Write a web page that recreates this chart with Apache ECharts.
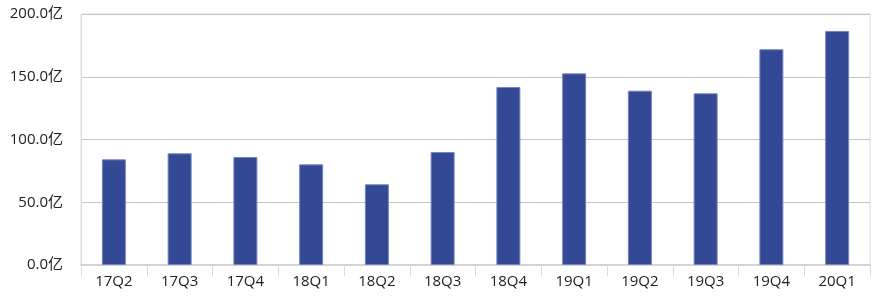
<!DOCTYPE html>
<html><head><meta charset="utf-8">
<script src="https://cdn.jsdelivr.net/npm/echarts@6/dist/echarts.min.js"></script>
<style>html,body{margin:0;padding:0;background:#fff}#c{width:880px;height:302px}</style>
</head><body><div id="c"></div>
<script>
var categories = ['17Q2','17Q3','17Q4','18Q1','18Q2','18Q3','18Q4','19Q1','19Q2','19Q3','19Q4','20Q1'];
var values = [84.2, 89.0, 86.1, 80.2, 64.3, 90.0, 141.8, 152.7, 138.9, 136.8, 171.9, 186.5];
var yTicks = [0, 50, 100, 150, 200];
var unit = '亿';

var chart = echarts.init(document.getElementById('c'), null, {renderer:'canvas'});
var font = '"Open Sans", "Noto Sans CJK SC", sans-serif';
chart.setOption({
  animation: false,
  grid: {left: 81, right: 10, top: 14, bottom: 37, show: true, borderColor: '#dcdcdc', borderWidth: 1},
  xAxis: {
    type: 'category', data: categories,
    axisLine: {show: true, lineStyle: {color: '#d4d4d4', width: 2}},
    axisTick: {show: true, length: 11, lineStyle: {color: '#d3dbea'}},
    axisLabel: {color: '#222', fontSize: 15, fontFamily: font, margin: 9}
  },
  yAxis: {
    type: 'value', min: yTicks[0], max: yTicks[yTicks.length-1], interval: 50,
    axisLine: {show: true, lineStyle: {color: '#dcdcdc'}},
    axisTick: {show: false},
    splitLine: {lineStyle: {color: '#c4c4c4', width: 1}},
    axisLabel: {color: '#222', fontSize: 15, fontFamily: font, margin: 18,
      formatter: function(v){ return v.toFixed(1) + unit; }}
  },
  series: [{
    type: 'bar', data: values, barWidth: 24,
    itemStyle: {color: '#334996', borderColor: '#7585bd', borderWidth: 1}
  }]
});
</script></body></html>
